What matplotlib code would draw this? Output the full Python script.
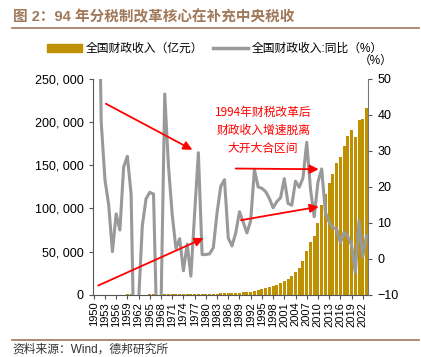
import matplotlib.pyplot as plt
import matplotlib.ticker as mticker
from matplotlib.patches import Patch
from matplotlib.lines import Line2D
import numpy as np

plt.rcParams['font.family'] = ['Liberation Sans', 'Noto Sans CJK SC', 'DejaVu Sans']

years = list(range(1950, 2024))

# 全国财政收入（亿元）
revenue = [65.19, 133.14, 183.72, 222.86, 262.37, 272.03, 287.43, 310.19, 387.60, 487.12,
           572.29, 356.06, 313.55, 342.25, 399.54, 473.32, 558.71, 419.36, 361.25, 526.76,
           662.90, 744.73, 766.56, 809.67, 783.14, 815.61, 776.58, 874.46, 1132.26, 1146.38,
           1159.93, 1175.79, 1212.33, 1366.95, 1642.86, 2004.82, 2122.01, 2199.35, 2357.24, 2664.90,
           2937.10, 3149.48, 3483.37, 4348.95, 5218.10, 6242.20, 7407.99, 8651.14, 9875.95, 11444.08,
           13395.23, 16386.04, 18903.64, 21715.25, 26396.47, 31649.29, 38760.20, 51321.78, 61330.35, 68518.30,
           83101.51, 103874.43, 117253.52, 129209.64, 140370.03, 152269.23, 159604.97, 172592.77, 183359.84, 190390.08,
           182913.88, 202554.64, 203649.29, 216784.37]

# 同比（%）
growth = [np.nan, 104.0, 38.0, 22.0, 15.0, 2.0, 12.5, 8.0, 25.5, 28.5,
          18.0, -37.8, -11.9, 9.2, 16.7, 18.5, 18.0, -24.9, -13.9, 45.8,
          25.8, 12.3, 2.9, 5.6, -3.3, 4.1, -4.8, 12.6, 29.5, 1.2,
          1.2, 1.4, 3.1, 12.8, 20.2, 22.0, 5.8, 3.6, 7.2, 13.1,
          10.2, 7.2, 10.6, 24.8, 20.0, 19.6, 18.7, 16.8, 14.2, 15.9,
          17.0, 22.3, 15.4, 14.9, 21.6, 19.9, 22.5, 32.4, 19.5, 11.7,
          21.3, 25.0, 12.9, 10.2, 8.6, 8.4, 4.5, 7.4, 6.2, 3.8,
          -3.9, 10.7, 0.6, 6.4]

brown = '#A0785A'
gold = '#BF9000'
gray = '#999999'

fig = plt.figure(figsize=(4.21, 3.57), dpi=100)
ax = fig.add_axes([0.22, 0.174, 0.655, 0.605])
x = np.arange(len(years))

ax.bar(x, revenue, width=0.8, color=gold, zorder=2)
ax.set_ylim(0, 250000)
ax.set_yticks(range(0, 250001, 50000))
ax.yaxis.set_major_formatter(mticker.FuncFormatter(lambda v, p: f"{int(v):,}".replace(",", ", ")))
ax.set_xlim(-0.3, len(years) - 0.5)
ax.set_xticks(x[::3])
ax.set_xticklabels([str(y) for y in years[::3]], rotation=90, fontsize=8)
ax.tick_params(axis='y', labelsize=9, length=3, color='#555555')
ax.tick_params(axis='x', length=3, pad=2, color='#555555')
ax.spines['top'].set_visible(False)
ax.spines['right'].set_visible(False)
ax.spines['left'].set_color('#555555')
ax.spines['bottom'].set_color('#555555')

ax2 = ax.twinx()
ax2.plot(x, growth, color=gray, lw=2.2, zorder=3)
ax2.set_ylim(-10, 50)
ax2.set_yticks(range(-10, 51, 10))
ax2.yaxis.set_major_formatter(mticker.FuncFormatter(lambda v, p: f"{int(v)}".replace("-", "\u2212")))
ax2.tick_params(axis='y', labelsize=9, length=3, color='#555555')
for s in ['top', 'left', 'bottom']:
    ax2.spines[s].set_visible(False)
ax2.spines['right'].set_color('#777777')

# arrows
arrows = [((3.25, 43.1), (26.4, 30.3)),
          ((1.2, -7.4), (29.4, 5.75)),
          ((38.0, 25.1), (60.2, 24.9)),
          ((39.4, 10.75), (60.2, 14.5))]
for start, end in arrows:
    ax2.annotate('', xy=end, xytext=start,
                 arrowprops=dict(arrowstyle='-|>', color='red', lw=1.3,
                                 mutation_scale=13, shrinkA=0, shrinkB=0),
                 annotation_clip=False, zorder=5)

fig.text(0.625, 0.635, "1994年财税改革后\n财政收入增速脱离\n大开大合区间", color='red',
         fontsize=8.5, ha='center', va='center', linespacing=1.5,
         family=['Noto Sans CJK SC'])

# title and frame lines
fig.text(0.03, 0.972, "图 2：94 年分税制改革核心在补充中央税收", color=brown,
         fontsize=10.5, fontweight='bold', ha='left', va='top')
fig.add_artist(Line2D([0.028, 0.995], [0.922, 0.922], color=brown, lw=1.2))
fig.add_artist(Line2D([0.028, 0.995], [0.047, 0.047], color=brown, lw=1.2))
fig.text(0.03, 0.004, "资料来源：Wind，德邦研究所", fontsize=8.5, ha='left', va='bottom', color='#333333')

handles = [Patch(color=gold), Line2D([0], [0], color=gray, lw=2.5)]
labels = ["全国财政收入（亿元）", "全国财政收入:同比（%）"]
fig.legend(handles, labels, loc='center', bbox_to_anchor=(0.51, 0.862), ncol=2,
           frameon=False, fontsize=8.5, handlelength=3.0, handleheight=0.6,
           columnspacing=0.8, handletextpad=0.3)
fig.text(0.893, 0.829, "（%）", fontsize=8.5, ha='center', va='center')

fig.savefig('out.png', dpi=100)
